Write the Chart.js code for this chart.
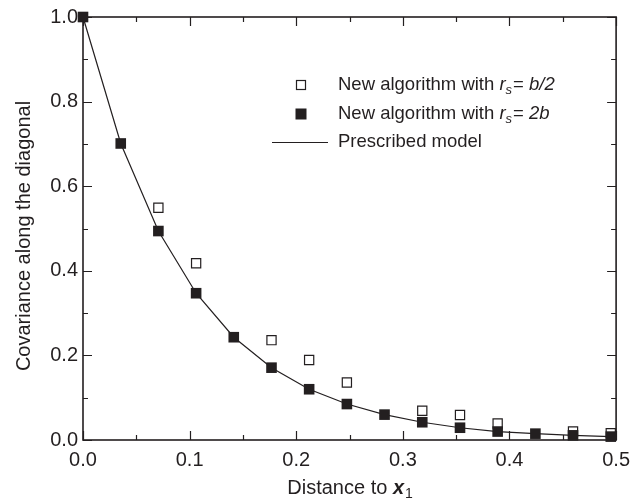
<!DOCTYPE html>
<html>
<head>
<meta charset="utf-8">
<script src="https://cdn.jsdelivr.net/npm/chart.js@4.4.0/dist/chart.umd.min.js"></script>
<style>
  html, body { margin: 0; padding: 0; background: #fff; }
  #wrap { width: 638px; height: 501px; position: relative; }
</style>
</head>
<body>
<div id="wrap"><canvas id="grafica" width="638" height="501"></canvas></div>
<script>
// distancia a x1 (eje x)
var distancias = [0.0, 0.0354, 0.0707, 0.1061, 0.1414, 0.1768, 0.2121, 0.2475, 0.2828, 0.3182, 0.3536, 0.3889, 0.4243, 0.4596, 0.4950];
// r_s = b/2 (cuadros vacios), null donde queda tapado
var covRsMedio = [null, null, 0.549, 0.418, null, 0.236, 0.189, 0.136, null, 0.069, 0.059, 0.039, null, 0.020, 0.016];
// r_s = 2b (cuadros llenos)
var covRsDoble = [1.0, 0.701, 0.494, 0.347, 0.243, 0.171, 0.120, 0.085, 0.060, 0.042, 0.029, 0.020, 0.015, 0.011, 0.008];
// modelo prescrito
var covModelo = [1.0, 0.701, 0.494, 0.347, 0.243, 0.171, 0.120, 0.085, 0.060, 0.042, 0.029, 0.020, 0.015, 0.011, 0.008];

var tituloX = "Distance to ";
var tituloY = "Covariance along the diagonal";
var etiquetas = ["New algorithm with ", "New algorithm with ", "Prescribed model"];
var etiquetasFin = [" = b/2", " = 2b", ""];

var negro = '#231f20';
var fuente = '"Liberation Sans", Arial, sans-serif';

function puntos(ys) {
  return distancias.map(function(x, i) { return { x: x, y: ys[i] }; });
}

// dibuja marco, marcas hacia dentro, titulos y leyenda
var extras = {
  id: 'extras',
  beforeDatasetsDraw: function(chart) {
    var ctx = chart.ctx;
    var a = chart.chartArea;
    ctx.save();
    ctx.strokeStyle = negro;
    ctx.lineWidth = 1.6;
    ctx.strokeRect(a.left, a.top, a.right - a.left, a.bottom - a.top);

    ctx.lineWidth = 1.2;
    var sx = chart.scales.x;
    sx.ticks.forEach(function(t, i) {
      var px = Math.round(sx.getPixelForTick(i)) + 0.5;
      var largo = (t.label === '' ? 5 : 9);
      ctx.beginPath();
      ctx.moveTo(px, a.bottom); ctx.lineTo(px, a.bottom - largo);
      ctx.moveTo(px, a.top); ctx.lineTo(px, a.top + largo);
      ctx.stroke();
    });
    var sy = chart.scales.y;
    sy.ticks.forEach(function(t, i) {
      var py = Math.round(sy.getPixelForTick(i)) + 0.5;
      var largo = (t.label === '' ? 5 : 9);
      ctx.beginPath();
      ctx.moveTo(a.left, py); ctx.lineTo(a.left + largo, py);
      ctx.moveTo(a.right, py); ctx.lineTo(a.right - largo, py);
      ctx.stroke();
    });
    ctx.restore();
  },
  afterDraw: function(chart) {
    var ctx = chart.ctx;
    var a = chart.chartArea;
    ctx.save();
    ctx.fillStyle = negro;
    ctx.textBaseline = 'alphabetic';
    // titulo eje x con x1 en negrita cursiva
    ctx.font = '20px ' + fuente;
    var w1 = ctx.measureText(tituloX).width;
    ctx.font = 'italic bold 20px ' + fuente;
    var w2 = ctx.measureText('x').width;
    ctx.font = '14px ' + fuente;
    var w3 = ctx.measureText('1').width;
    var cx = (a.left + a.right) / 2;
    var x0 = cx - (w1 + w2 + w3) / 2;
    var base = 494;
    ctx.font = '20px ' + fuente;
    ctx.fillText(tituloX, x0, base);
    ctx.font = 'italic bold 20px ' + fuente;
    ctx.fillText('x', x0 + w1, base);
    ctx.font = '14px ' + fuente;
    ctx.fillText('1', x0 + w1 + w2 + 1, base + 4);

    // titulo eje y
    ctx.save();
    ctx.translate(30, 236);
    ctx.rotate(-Math.PI / 2);
    ctx.font = '20px ' + fuente;
    ctx.textAlign = 'center';
    ctx.fillText(tituloY, 0, 0);
    ctx.restore();

    // leyenda
    var filas = [85, 114, 142];
    var mx = 301, tx = 338;
    ctx.lineWidth = 1.2;
    ctx.strokeStyle = negro;
    ctx.strokeRect(mx - 4.5, filas[0] - 4.5, 9, 9);
    ctx.fillRect(mx - 5.5, filas[1] - 5.5, 11, 11);
    ctx.beginPath();
    ctx.moveTo(272, filas[2] + 0.5); ctx.lineTo(328, filas[2] + 0.5);
    ctx.stroke();
    ctx.textBaseline = 'middle';
    for (var k = 0; k < 3; k++) {
      var y = filas[k];
      var x = tx;
      ctx.font = '18.5px ' + fuente;
      ctx.fillText(etiquetas[k], x, y);
      if (etiquetasFin[k] === '') continue;
      x += ctx.measureText(etiquetas[k]).width;
      ctx.font = 'italic 18.5px ' + fuente;
      ctx.fillText('r', x, y);
      x += ctx.measureText('r').width;
      ctx.font = 'italic 13px ' + fuente;
      ctx.fillText('s', x, y + 5);
      x += ctx.measureText('s').width;
      ctx.font = '18.5px ' + fuente;
      ctx.fillText('=', x + 1, y);
      x += ctx.measureText('= ').width + 1;
      ctx.font = 'italic 18.5px ' + fuente;
      ctx.fillText(etiquetasFin[k].slice(3), x, y);
    }
    ctx.restore();
  }
};

var ctx = document.getElementById('grafica').getContext('2d');
var grafica = new Chart(ctx, {
  type: 'scatter',
  data: {
    datasets: [{
      label: etiquetas[2],
      data: puntos(covModelo),
      showLine: true,
      borderColor: negro,
      borderWidth: 1.2,
      pointRadius: 0,
      tension: 0,
      clip: false,
      order: 3
    }, {
      label: etiquetas[0] + 'rs' + etiquetasFin[0],
      data: puntos(covRsMedio),
      pointStyle: 'rect',
      pointRadius: 6.5,
      backgroundColor: '#ffffff',
      borderColor: negro,
      borderWidth: 1.2,
      clip: false,
      order: 2
    }, {
      label: etiquetas[1] + 'rs' + etiquetasFin[1],
      data: puntos(covRsDoble),
      pointStyle: 'rect',
      pointRadius: 7.5,
      backgroundColor: negro,
      borderColor: negro,
      borderWidth: 0,
      clip: false,
      order: 1
    }]
  },
  options: {
    responsive: false,
    animation: false,
    devicePixelRatio: 1,
    layout: { padding: { top: 17, right: 16, left: 0, bottom: 0 } },
    plugins: { legend: { display: false }, tooltip: { enabled: false } },
    scales: {
      x: {
        type: 'linear', min: 0, max: 0.5,
        grid: { display: false, drawTicks: false },
        border: { display: false },
        ticks: {
          stepSize: 0.05, color: negro, padding: 8, maxRotation: 0, autoSkip: false,
          font: { family: fuente, size: 20 },
          callback: function(v) { var r = Math.round(v * 100); return r % 10 === 0 ? (r / 100).toFixed(1) : ''; }
        },
        afterFit: function(s) { s.height = 61; }
      },
      y: {
        type: 'linear', min: 0, max: 1.0,
        grid: { display: false, drawTicks: false },
        border: { display: false },
        ticks: {
          stepSize: 0.1, color: negro, padding: 5, autoSkip: false,
          font: { family: fuente, size: 20 },
          callback: function(v) { var r = Math.round(v * 10); return r % 2 === 0 ? (r / 10).toFixed(1) : ''; }
        },
        afterFit: function(s) { s.width = 83; }
      }
    }
  },
  plugins: [extras]
});
</script>
</body>
</html>
